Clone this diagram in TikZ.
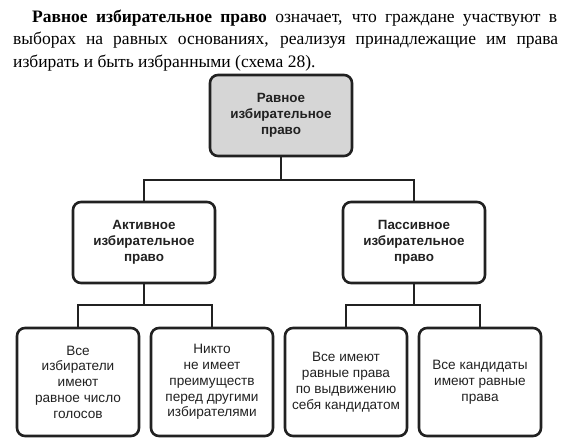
\documentclass[tikz,border=0pt]{standalone}
\usepackage{fontspec}
\setmainfont{Liberation Serif}
\setsansfont{Liberation Sans}
\usepackage{xcolor}
\usepackage{tikz}
\definecolor{boxgray}{gray}{0.84}
\definecolor{ink}{gray}{0.13}

\begin{document}
\begin{tikzpicture}[x=1pt,y=-1pt,
  box/.style={draw=ink,text=ink,line width=2.6pt,rounded corners=8pt,align=center,inner sep=0pt,
    font=\sffamily\fontsize{13.6}{15.8}\selectfont},
  head/.style={box,minimum width=142pt,minimum height=81pt,
    font=\sffamily\bfseries\fontsize{13.4}{15.8}\selectfont},
  leaf/.style={box,minimum width=122pt,minimum height=108pt},
  link/.style={draw=ink,line width=2pt},
  para/.style={anchor=base west,inner sep=0pt,font=\fontsize{17.5}{23}\selectfont}]
  \useasboundingbox (0,0) rectangle (570,447);

  \node[para] (line1) at (32,22) {\makebox[525pt][s]{\textbf{Равное избирательное право} означает, что граждане участвуют в}};
  \node[para] (line2) at (13,44.5) {\makebox[545pt][s]{выборах на равных основаниях, реализуя принадлежащие им права}};
  \node[para] (line3) at (13,67) {избирать и быть избранными (схема 28).};

  \node[head,fill=boxgray] (equal) at (281,115.5) {Равное\\избирательное\\право};
  \node[head] (active) at (144,242.5) {Активное\\избирательное\\право};
  \node[head] (passive) at (414,242.5) {Пассивное\\избирательное\\право};

  \node[leaf] (votes) at (78,382) {Все\\избиратели\\имеют\\равное число\\голосов};
  \node[leaf] (noprivilege) at (212,382) {Никто\\не имеет\\преимуществ\\перед другими\\избирателями};
  \node[leaf] (nominate) at (346,382) {Все имеют\\равные права\\по выдвижению\\себя кандидатом};
  \node[leaf] (candidates) at (480,382) {Все кандидаты\\имеют равные\\права};

  \coordinate (fork) at (281,180);
  \coordinate (forkA) at (144,305);
  \coordinate (forkP) at (414,305);
  \draw[link] (equal) -- (fork) -| (active);
  \draw[link] (fork) -| (passive);
  \draw[link] (active) -- (forkA) -| (votes);
  \draw[link] (forkA) -| (noprivilege);
  \draw[link] (passive) -- (forkP) -| (nominate);
  \draw[link] (forkP) -| (candidates);
\end{tikzpicture}
\end{document}
